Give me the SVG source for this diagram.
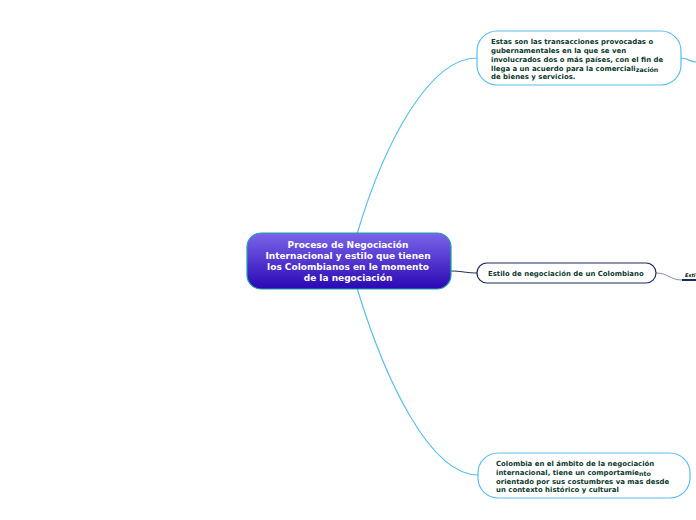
<svg xmlns="http://www.w3.org/2000/svg" width="696" height="520" viewBox="0 0 696 520">
<defs>
<linearGradient id="cg" x1="0" y1="0" x2="0" y2="1">
<stop offset="0" stop-color="#7b65ea"/>
<stop offset="1" stop-color="#2a08b4"/>
</linearGradient>
<style>
.sub{fill:#fff;stroke:#5bbfea;stroke-width:1.2}
.st{font-family:"DejaVu Sans",Verdana,sans-serif;font-weight:bold;font-size:6.95px;fill:#0b3a2c}
.ct{font-family:"DejaVu Sans",Verdana,sans-serif;font-weight:bold;font-size:9px;fill:#fff;text-anchor:middle}
.lb{fill:none;stroke:#5bbfea;stroke-width:1.2}
.dk{fill:none;stroke:#1d2b5c;stroke-width:1}
</style>
</defs>
<rect width="696" height="520" fill="#fff"/>
<g id="connectors">
<path class="lb" d="M357,234 C385,140 430,58 477,58"/>
<path class="lb" d="M357,288 C385,380 430,475 478,475"/>
<path class="lb" d="M681,58 C688,58 690,62 696,62"/>
<path class="dk" d="M451,271 C462,271 466,273 477,273"/>
<path d="M656,273 C668,273 670,280 682,280" fill="none" stroke="#8890a8" stroke-width="1"/>
<line x1="682" y1="280" x2="696" y2="280" stroke="#1d2b5c" stroke-width="2"/>
</g>
<g id="central">
<rect x="247" y="233" width="204" height="56" rx="14" fill="url(#cg)" stroke="#1fa3a8" stroke-width="1.2"/>
<text class="ct" x="348" y="248">Proceso de Negociación</text>
<text class="ct" x="348" y="259">Internacional y estilo que tienen</text>
<text class="ct" x="348" y="270">los Colombianos en le momento</text>
<text class="ct" x="348" y="281">de la negociación</text>
</g>
<g id="node-top">
<rect class="sub" x="477" y="31" width="204" height="54" rx="20"/>
<text class="st" x="491" y="44">Estas son las transacciones provocadas o</text>
<text class="st" x="491" y="53">gubernamentales en la que se ven</text>
<text class="st" x="491" y="62">involucrados dos o más países, con el fin de</text>
<text class="st" x="491" y="71">llega a un acuerdo para la comerciali<tspan font-size="6.3px" dy="1">zación</tspan></text>
<text class="st" x="491" y="79">de bienes y servicios.</text>
</g>
<g id="node-middle">
<rect x="477" y="263" width="179" height="20" rx="10" fill="#fff" stroke="#1d2b5c" stroke-width="1.2"/>
<text class="st" x="488" y="275.5">Estilo de negociación de un Colombiano</text>
</g>
<g id="node-sub">
<text x="685" y="277" font-family="DejaVu Sans,sans-serif" font-weight="bold" font-style="italic" font-size="5px" fill="#111">Esti</text>
</g>
<g id="node-bottom">
<rect class="sub" x="478" y="453" width="212" height="45" rx="20"/>
<text class="st" x="496" y="466">Colombia en el ámbito de la negociación</text>
<text class="st" x="496" y="475">internacional, tiene un comportamie<tspan font-size="6.3px" dy="1">nto</tspan></text>
<text class="st" x="496" y="484">orientado por sus costumbres va mas desde</text>
<text class="st" x="496" y="492">un contexto histórico y cultural</text>
</g>
</svg>
